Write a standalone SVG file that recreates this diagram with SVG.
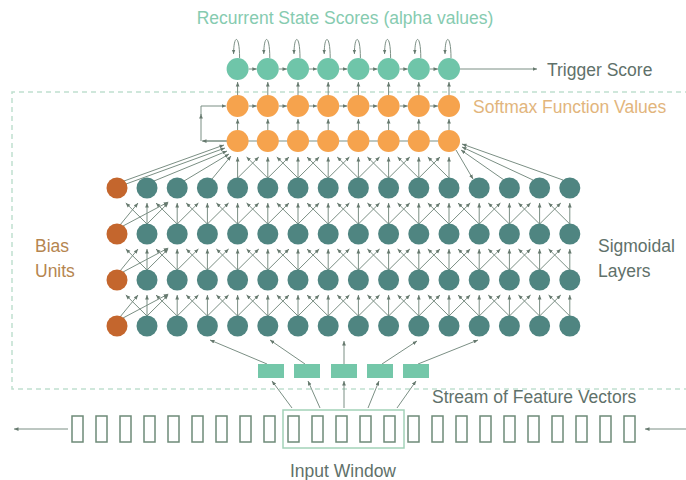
<svg xmlns="http://www.w3.org/2000/svg" xmlns:xlink="http://www.w3.org/1999/xlink" width="686" height="480" viewBox="0 0 686 480">
<style>
.ln{fill:none;stroke:#7b8f84;stroke-width:1;marker-end:url(#ah)}
.pl{fill:none;stroke:#7b8f84;stroke-width:1}
.t{fill:#4f8581}
.b{fill:#c4662d}
.o{fill:#f6a34d}
.a{fill:#6fc5a9}
.fv{fill:#74c7a9}
.box{fill:#fff;stroke:#6e8a78;stroke-width:1.5}
.win{fill:none;stroke:#a3d2b8;stroke-width:1.5}
.dash{fill:none;stroke:#c0e0cf;stroke-width:1.5;stroke-dasharray:5 4}
text{font-family:"Liberation Sans",Arial,sans-serif;font-size:17.5px}
.g{fill:#5f716a}
.tt{fill:#86cbb0}
.so{fill:#e2b57c}
.bu{fill:#b5854f}
</style>
<defs>
<marker id="ah" viewBox="0 0 6 6" refX="6" refY="3" markerWidth="4.5" markerHeight="4.5" markerUnits="userSpaceOnUse" orient="auto"><path d="M0,0.5 L6,3 L0,5.5z" fill="#66796e"/></marker>
<g id="fan"><path class="ln" d="M0,-10 V-31"/><path class="ln" d="M0,-10 L-21.2,-31"/><path class="ln" d="M0,-10 L21.2,-31"/></g>
<g id="fanL"><path class="ln" d="M0,-10 V-31"/><path class="ln" d="M0,-10 L-21.2,-31"/></g>
<g id="fanR"><path class="ln" d="M0,-10 V-31"/><path class="ln" d="M0,-10 L21.2,-31"/></g>
<g id="fanB"><path class="ln" d="M3,-9 L21,-31"/><path class="ln" d="M6,-8 L51.2,-32"/></g>
<path id="v1" class="ln" d="M0,-11 V-22"/>
<path id="v2" class="ln" d="M0,-11 V-24"/>
<path id="h" class="ln" d="M11,0 H19.2"/>
<path id="loop" class="ln" d="M2,-11 C2,-35 -4,-35 -4,-15"/>
</defs>
<rect width="686" height="480" fill="#fff"/>
<path class="dash" d="M690,92 H12 V389 H690"/>
<g id="connectors">
<use xlink:href="#fanB" x="117" y="234"/><use xlink:href="#fanB" x="117" y="280"/><use xlink:href="#fanB" x="117" y="326"/>
<use xlink:href="#fan" x="147" y="234"/><use xlink:href="#fan" x="177.2" y="234"/><use xlink:href="#fan" x="207.4" y="234"/><use xlink:href="#fan" x="237.6" y="234"/><use xlink:href="#fan" x="267.8" y="234"/><use xlink:href="#fan" x="298" y="234"/><use xlink:href="#fan" x="328.2" y="234"/><use xlink:href="#fan" x="358.4" y="234"/><use xlink:href="#fan" x="388.6" y="234"/><use xlink:href="#fan" x="418.8" y="234"/><use xlink:href="#fan" x="449" y="234"/><use xlink:href="#fan" x="479.2" y="234"/><use xlink:href="#fan" x="509.4" y="234"/><use xlink:href="#fan" x="539.6" y="234"/><use xlink:href="#fanL" x="569.8" y="234"/>
<use xlink:href="#fan" x="147" y="280"/><use xlink:href="#fan" x="177.2" y="280"/><use xlink:href="#fan" x="207.4" y="280"/><use xlink:href="#fan" x="237.6" y="280"/><use xlink:href="#fan" x="267.8" y="280"/><use xlink:href="#fan" x="298" y="280"/><use xlink:href="#fan" x="328.2" y="280"/><use xlink:href="#fan" x="358.4" y="280"/><use xlink:href="#fan" x="388.6" y="280"/><use xlink:href="#fan" x="418.8" y="280"/><use xlink:href="#fan" x="449" y="280"/><use xlink:href="#fan" x="479.2" y="280"/><use xlink:href="#fan" x="509.4" y="280"/><use xlink:href="#fan" x="539.6" y="280"/><use xlink:href="#fanL" x="569.8" y="280"/>
<use xlink:href="#fan" x="147" y="326"/><use xlink:href="#fan" x="177.2" y="326"/><use xlink:href="#fan" x="207.4" y="326"/><use xlink:href="#fan" x="237.6" y="326"/><use xlink:href="#fan" x="267.8" y="326"/><use xlink:href="#fan" x="298" y="326"/><use xlink:href="#fan" x="328.2" y="326"/><use xlink:href="#fan" x="358.4" y="326"/><use xlink:href="#fan" x="388.6" y="326"/><use xlink:href="#fan" x="418.8" y="326"/><use xlink:href="#fan" x="449" y="326"/><use xlink:href="#fan" x="479.2" y="326"/><use xlink:href="#fan" x="509.4" y="326"/><use xlink:href="#fan" x="539.6" y="326"/><use xlink:href="#fanL" x="569.8" y="326"/>
<use xlink:href="#fanR" x="237.6" y="188"/><use xlink:href="#fan" x="267.8" y="188"/><use xlink:href="#fan" x="298" y="188"/><use xlink:href="#fan" x="328.2" y="188"/><use xlink:href="#fan" x="358.4" y="188"/><use xlink:href="#fan" x="388.6" y="188"/><use xlink:href="#fan" x="418.8" y="188"/><use xlink:href="#fanL" x="449" y="188"/>
<path class="ln" d="M124,181 L224,145"/><path class="ln" d="M126,184 L225,148"/><path class="ln" d="M154,181 L227,151"/><path class="ln" d="M184,181 L229,154"/><path class="ln" d="M212,179 L231,156"/>
<path class="ln" d="M563,180 L462,144"/><path class="ln" d="M533,180 L462,147"/><path class="ln" d="M504,180 L461,150"/><path class="ln" d="M456,150 L473,179"/>
<path class="pl" d="M203,141 H449"/>
<path class="ln" d="M227,141 H202"/>
<path class="ln" d="M201,141 V114"/>
<path class="ln" d="M201,115 V106 H226"/>
<use xlink:href="#v1" x="237.6" y="141"/><use xlink:href="#v1" x="267.8" y="141"/><use xlink:href="#v1" x="298" y="141"/><use xlink:href="#v1" x="328.2" y="141"/><use xlink:href="#v1" x="358.4" y="141"/><use xlink:href="#v1" x="388.6" y="141"/><use xlink:href="#v1" x="418.8" y="141"/><use xlink:href="#v1" x="449" y="141"/>
<use xlink:href="#v2" x="237.6" y="106"/><use xlink:href="#v2" x="267.8" y="106"/><use xlink:href="#v2" x="298" y="106"/><use xlink:href="#v2" x="328.2" y="106"/><use xlink:href="#v2" x="358.4" y="106"/><use xlink:href="#v2" x="388.6" y="106"/><use xlink:href="#v2" x="418.8" y="106"/><use xlink:href="#v2" x="449" y="106"/>
<use xlink:href="#h" x="237.6" y="106"/><use xlink:href="#h" x="267.8" y="106"/><use xlink:href="#h" x="298" y="106"/><use xlink:href="#h" x="328.2" y="106"/><use xlink:href="#h" x="358.4" y="106"/><use xlink:href="#h" x="388.6" y="106"/><use xlink:href="#h" x="418.8" y="106"/>
<use xlink:href="#h" x="237.6" y="69"/><use xlink:href="#h" x="267.8" y="69"/><use xlink:href="#h" x="298" y="69"/><use xlink:href="#h" x="328.2" y="69"/><use xlink:href="#h" x="358.4" y="69"/><use xlink:href="#h" x="388.6" y="69"/><use xlink:href="#h" x="418.8" y="69"/>
<use xlink:href="#loop" x="237.6" y="69"/><use xlink:href="#loop" x="267.8" y="69"/><use xlink:href="#loop" x="298" y="69"/><use xlink:href="#loop" x="328.2" y="69"/><use xlink:href="#loop" x="358.4" y="69"/><use xlink:href="#loop" x="388.6" y="69"/><use xlink:href="#loop" x="418.8" y="69"/><use xlink:href="#loop" x="449" y="69"/>
<path class="ln" d="M460,69 H537"/>
<path class="ln" d="M267,364 L210,340"/><path class="ln" d="M305,364 L270,340"/><path class="ln" d="M344,364 V341"/><path class="ln" d="M382,364 L417,341"/><path class="ln" d="M418,364 L478,340"/>
<path class="ln" d="M292,408 L272,381"/><path class="ln" d="M320,408 L308,381"/><path class="ln" d="M344,408 V381"/><path class="ln" d="M368,408 L379,381"/><path class="ln" d="M397,408 L416,381"/>
<path class="ln" d="M68,429 H14"/><path class="ln" d="M686,429 H645"/>
</g>
<g id="alpha-0"><circle class="a" cx="237.6" cy="69" r="11"/></g><g id="alpha-1"><circle class="a" cx="267.8" cy="69" r="11"/></g><g id="alpha-2"><circle class="a" cx="298" cy="69" r="11"/></g><g id="alpha-3"><circle class="a" cx="328.2" cy="69" r="11"/></g><g id="alpha-4"><circle class="a" cx="358.4" cy="69" r="11"/></g><g id="alpha-5"><circle class="a" cx="388.6" cy="69" r="11"/></g><g id="alpha-6"><circle class="a" cx="418.8" cy="69" r="11"/></g><g id="alpha-7"><circle class="a" cx="449" cy="69" r="11"/></g>
<g id="soft-0"><circle class="o" cx="237.6" cy="106" r="11"/></g><g id="soft-1"><circle class="o" cx="267.8" cy="106" r="11"/></g><g id="soft-2"><circle class="o" cx="298" cy="106" r="11"/></g><g id="soft-3"><circle class="o" cx="328.2" cy="106" r="11"/></g><g id="soft-4"><circle class="o" cx="358.4" cy="106" r="11"/></g><g id="soft-5"><circle class="o" cx="388.6" cy="106" r="11"/></g><g id="soft-6"><circle class="o" cx="418.8" cy="106" r="11"/></g><g id="soft-7"><circle class="o" cx="449" cy="106" r="11"/></g>
<g id="out-0"><circle class="o" cx="237.6" cy="141" r="11"/></g><g id="out-1"><circle class="o" cx="267.8" cy="141" r="11"/></g><g id="out-2"><circle class="o" cx="298" cy="141" r="11"/></g><g id="out-3"><circle class="o" cx="328.2" cy="141" r="11"/></g><g id="out-4"><circle class="o" cx="358.4" cy="141" r="11"/></g><g id="out-5"><circle class="o" cx="388.6" cy="141" r="11"/></g><g id="out-6"><circle class="o" cx="418.8" cy="141" r="11"/></g><g id="out-7"><circle class="o" cx="449" cy="141" r="11"/></g>
<g id="bias-1"><circle class="b" cx="117" cy="188" r="10.5"/></g><g id="bias-2"><circle class="b" cx="117" cy="234" r="10.5"/></g><g id="bias-3"><circle class="b" cx="117" cy="280" r="10.5"/></g><g id="bias-4"><circle class="b" cx="117" cy="326" r="10.5"/></g>
<g id="h1-0"><circle class="t" cx="147" cy="188" r="10.5"/></g><g id="h1-1"><circle class="t" cx="177.2" cy="188" r="10.5"/></g><g id="h1-2"><circle class="t" cx="207.4" cy="188" r="10.5"/></g><g id="h1-3"><circle class="t" cx="237.6" cy="188" r="10.5"/></g><g id="h1-4"><circle class="t" cx="267.8" cy="188" r="10.5"/></g><g id="h1-5"><circle class="t" cx="298" cy="188" r="10.5"/></g><g id="h1-6"><circle class="t" cx="328.2" cy="188" r="10.5"/></g><g id="h1-7"><circle class="t" cx="358.4" cy="188" r="10.5"/></g><g id="h1-8"><circle class="t" cx="388.6" cy="188" r="10.5"/></g><g id="h1-9"><circle class="t" cx="418.8" cy="188" r="10.5"/></g><g id="h1-10"><circle class="t" cx="449" cy="188" r="10.5"/></g><g id="h1-11"><circle class="t" cx="479.2" cy="188" r="10.5"/></g><g id="h1-12"><circle class="t" cx="509.4" cy="188" r="10.5"/></g><g id="h1-13"><circle class="t" cx="539.6" cy="188" r="10.5"/></g><g id="h1-14"><circle class="t" cx="569.8" cy="188" r="10.5"/></g>
<g id="h2-0"><circle class="t" cx="147" cy="234" r="10.5"/></g><g id="h2-1"><circle class="t" cx="177.2" cy="234" r="10.5"/></g><g id="h2-2"><circle class="t" cx="207.4" cy="234" r="10.5"/></g><g id="h2-3"><circle class="t" cx="237.6" cy="234" r="10.5"/></g><g id="h2-4"><circle class="t" cx="267.8" cy="234" r="10.5"/></g><g id="h2-5"><circle class="t" cx="298" cy="234" r="10.5"/></g><g id="h2-6"><circle class="t" cx="328.2" cy="234" r="10.5"/></g><g id="h2-7"><circle class="t" cx="358.4" cy="234" r="10.5"/></g><g id="h2-8"><circle class="t" cx="388.6" cy="234" r="10.5"/></g><g id="h2-9"><circle class="t" cx="418.8" cy="234" r="10.5"/></g><g id="h2-10"><circle class="t" cx="449" cy="234" r="10.5"/></g><g id="h2-11"><circle class="t" cx="479.2" cy="234" r="10.5"/></g><g id="h2-12"><circle class="t" cx="509.4" cy="234" r="10.5"/></g><g id="h2-13"><circle class="t" cx="539.6" cy="234" r="10.5"/></g><g id="h2-14"><circle class="t" cx="569.8" cy="234" r="10.5"/></g>
<g id="h3-0"><circle class="t" cx="147" cy="280" r="10.5"/></g><g id="h3-1"><circle class="t" cx="177.2" cy="280" r="10.5"/></g><g id="h3-2"><circle class="t" cx="207.4" cy="280" r="10.5"/></g><g id="h3-3"><circle class="t" cx="237.6" cy="280" r="10.5"/></g><g id="h3-4"><circle class="t" cx="267.8" cy="280" r="10.5"/></g><g id="h3-5"><circle class="t" cx="298" cy="280" r="10.5"/></g><g id="h3-6"><circle class="t" cx="328.2" cy="280" r="10.5"/></g><g id="h3-7"><circle class="t" cx="358.4" cy="280" r="10.5"/></g><g id="h3-8"><circle class="t" cx="388.6" cy="280" r="10.5"/></g><g id="h3-9"><circle class="t" cx="418.8" cy="280" r="10.5"/></g><g id="h3-10"><circle class="t" cx="449" cy="280" r="10.5"/></g><g id="h3-11"><circle class="t" cx="479.2" cy="280" r="10.5"/></g><g id="h3-12"><circle class="t" cx="509.4" cy="280" r="10.5"/></g><g id="h3-13"><circle class="t" cx="539.6" cy="280" r="10.5"/></g><g id="h3-14"><circle class="t" cx="569.8" cy="280" r="10.5"/></g>
<g id="h4-0"><circle class="t" cx="147" cy="326" r="10.5"/></g><g id="h4-1"><circle class="t" cx="177.2" cy="326" r="10.5"/></g><g id="h4-2"><circle class="t" cx="207.4" cy="326" r="10.5"/></g><g id="h4-3"><circle class="t" cx="237.6" cy="326" r="10.5"/></g><g id="h4-4"><circle class="t" cx="267.8" cy="326" r="10.5"/></g><g id="h4-5"><circle class="t" cx="298" cy="326" r="10.5"/></g><g id="h4-6"><circle class="t" cx="328.2" cy="326" r="10.5"/></g><g id="h4-7"><circle class="t" cx="358.4" cy="326" r="10.5"/></g><g id="h4-8"><circle class="t" cx="388.6" cy="326" r="10.5"/></g><g id="h4-9"><circle class="t" cx="418.8" cy="326" r="10.5"/></g><g id="h4-10"><circle class="t" cx="449" cy="326" r="10.5"/></g><g id="h4-11"><circle class="t" cx="479.2" cy="326" r="10.5"/></g><g id="h4-12"><circle class="t" cx="509.4" cy="326" r="10.5"/></g><g id="h4-13"><circle class="t" cx="539.6" cy="326" r="10.5"/></g><g id="h4-14"><circle class="t" cx="569.8" cy="326" r="10.5"/></g>
<g id="fv-0"><rect class="fv" x="258" y="364" width="26" height="14"/></g><g id="fv-1"><rect class="fv" x="294" y="364" width="26" height="14"/></g><g id="fv-2"><rect class="fv" x="331" y="364" width="26" height="14"/></g><g id="fv-3"><rect class="fv" x="367" y="364" width="26" height="14"/></g><g id="fv-4"><rect class="fv" x="403" y="364" width="26" height="14"/></g>
<g id="input-window"><rect class="win" x="283" y="410" width="121" height="38"/></g>
<g id="f0"><rect class="box" x="72" y="416" width="11" height="26"/></g><g id="f1"><rect class="box" x="96" y="416" width="11" height="26"/></g><g id="f2"><rect class="box" x="120" y="416" width="11" height="26"/></g><g id="f3"><rect class="box" x="144" y="416" width="11" height="26"/></g><g id="f4"><rect class="box" x="168" y="416" width="11" height="26"/></g><g id="f5"><rect class="box" x="192" y="416" width="11" height="26"/></g><g id="f6"><rect class="box" x="216" y="416" width="11" height="26"/></g><g id="f7"><rect class="box" x="240" y="416" width="11" height="26"/></g><g id="f8"><rect class="box" x="264" y="416" width="11" height="26"/></g><g id="f9"><rect class="box" x="288" y="416" width="11" height="26"/></g><g id="f10"><rect class="box" x="312" y="416" width="11" height="26"/></g><g id="f11"><rect class="box" x="336" y="416" width="11" height="26"/></g><g id="f12"><rect class="box" x="360" y="416" width="11" height="26"/></g><g id="f13"><rect class="box" x="384" y="416" width="11" height="26"/></g><g id="f14"><rect class="box" x="408" y="416" width="11" height="26"/></g><g id="f15"><rect class="box" x="432" y="416" width="11" height="26"/></g><g id="f16"><rect class="box" x="456" y="416" width="11" height="26"/></g><g id="f17"><rect class="box" x="480" y="416" width="11" height="26"/></g><g id="f18"><rect class="box" x="504" y="416" width="11" height="26"/></g><g id="f19"><rect class="box" x="528" y="416" width="11" height="26"/></g><g id="f20"><rect class="box" x="552" y="416" width="11" height="26"/></g><g id="f21"><rect class="box" x="576" y="416" width="11" height="26"/></g><g id="f22"><rect class="box" x="600" y="416" width="11" height="26"/></g><g id="f23"><rect class="box" x="624" y="416" width="11" height="26"/></g>
<g id="labels">
<text class="tt" x="345" y="24" text-anchor="middle">Recurrent State Scores (alpha values)</text>
<text class="g" x="547" y="76">Trigger Score</text>
<text class="so" x="473" y="113">Softmax Function Values</text>
<text class="bu" x="35" y="252">Bias</text>
<text class="bu" x="35" y="277">Units</text>
<text class="g" x="598" y="252">Sigmoidal</text>
<text class="g" x="598" y="277">Layers</text>
<text class="g" x="432" y="403">Stream of Feature Vectors</text>
<text class="g" x="343" y="477" text-anchor="middle">Input Window</text>
</g>
</svg>
